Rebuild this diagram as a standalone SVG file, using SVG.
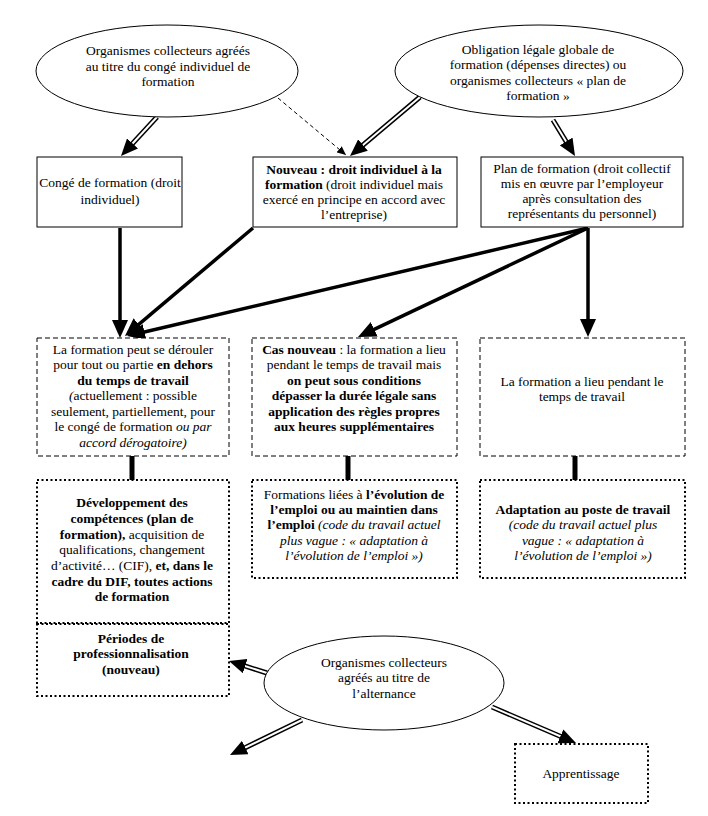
<svg xmlns="http://www.w3.org/2000/svg" width="708" height="816" viewBox="0 0 708 816">
<style>
.t{font-family:"Liberation Serif","Times New Roman",serif;font-size:13.5px;text-anchor:middle;fill:#000}
.b{font-weight:bold}
.i{font-style:italic}
.solid{fill:#fff;stroke:#000;stroke-width:1}
.dash{fill:#fff;stroke:#000;stroke-width:1;stroke-dasharray:5 3}
.dot{fill:#fff;stroke:#000;stroke-width:2;stroke-dasharray:2 2.5}
.ell{fill:#fff;stroke:#000;stroke-width:1}
.thick{stroke:#000;stroke-width:3.5;fill:none}
.bar{stroke:#000;stroke-width:5;fill:none}
.dblo{stroke:#000;stroke-width:5;fill:none}
.dbli{stroke:#fff;stroke-width:2;fill:none}
.thin{stroke:#000;stroke-width:1;stroke-dasharray:4 3;fill:none}
</style>
<defs>
<marker id="headT" markerUnits="userSpaceOnUse" markerWidth="18" markerHeight="16" refX="10" refY="8" orient="auto"><path d="M0,0 L18,8 L0,16 z" fill="#000"/></marker>
<marker id="headD" markerUnits="userSpaceOnUse" markerWidth="17" markerHeight="15" refX="17" refY="7.5" orient="auto"><path d="M0,0 L17,7.5 L0,15 z" fill="#000"/></marker>
<marker id="headS" markerUnits="userSpaceOnUse" markerWidth="9" markerHeight="8" refX="9" refY="4" orient="auto"><path d="M0,0 L9,4 L0,8 z" fill="#000"/></marker>
</defs>
<rect width="708" height="816" fill="#fff"/>

<g id="connectors">
<!-- double-line arrows from ellipses -->
<line class="dblo" x1="157" y1="117" x2="130.5" y2="145.7"/>
<line class="dbli" x1="157" y1="117" x2="121" y2="156" marker-end="url(#headD)"/>
<line class="dblo" x1="420" y1="97" x2="360.7" y2="147"/>
<line class="dbli" x1="420" y1="97" x2="350" y2="156" marker-end="url(#headD)"/>
<line class="dblo" x1="553" y1="120" x2="567.7" y2="144.1"/>
<line class="dbli" x1="553" y1="120" x2="575" y2="156" marker-end="url(#headD)"/>
<line class="thin" x1="278" y1="98" x2="346" y2="155" marker-end="url(#headS)"/>
<!-- thick arrows -->
<line class="thick" x1="120" y1="228" x2="120" y2="330" marker-end="url(#headT)"/>
<line class="thick" x1="253" y1="228" x2="131.1" y2="330.8" marker-end="url(#headT)"/>
<line class="thick" x1="588" y1="228" x2="134.8" y2="334.2" marker-end="url(#headT)"/>
<line class="thick" x1="588" y1="228" x2="365.2" y2="333.6" marker-end="url(#headT)"/>
<line class="thick" x1="588" y1="228" x2="588" y2="329" marker-end="url(#headT)"/>
<!-- short bars -->
<line class="bar" x1="132" y1="456" x2="132" y2="480"/>
<line class="bar" x1="348" y1="456" x2="348" y2="480"/>
<line class="bar" x1="575" y1="456" x2="575" y2="480"/>
<!-- bottom double arrows -->
<line class="dblo" x1="267" y1="673" x2="242.4" y2="665.2"/>
<line class="dbli" x1="267" y1="673" x2="229" y2="661" marker-end="url(#headD)"/>
<line class="dblo" x1="302" y1="720" x2="242.6" y2="748.9"/>
<line class="dbli" x1="302" y1="720" x2="230" y2="755" marker-end="url(#headD)"/>
<line class="dblo" x1="492" y1="707" x2="563.1" y2="737.5"/>
<line class="dbli" x1="492" y1="707" x2="576" y2="743" marker-end="url(#headD)"/>
</g>

<g id="ell-cif">
<ellipse class="ell" cx="167" cy="71" rx="131" ry="46"/>
<text class="t" x="168" y="55">Organismes collecteurs agréés</text>
<text class="t" x="168" y="71">au titre du congé individuel de</text>
<text class="t" x="168" y="86">formation</text>
</g>

<g id="ell-plan">
<ellipse class="ell" cx="539" cy="71" rx="144" ry="46"/>
<text class="t" x="538" y="54">Obligation légale globale de</text>
<text class="t" x="538" y="69">formation (dépenses directes) ou</text>
<text class="t" x="538" y="85">organismes collecteurs « plan de</text>
<text class="t" x="538" y="100">formation »</text>
</g>

<g id="box-conge">
<rect class="solid" x="37" y="157" width="145" height="70"/>
<text class="t" x="110" y="187">Congé de formation (droit</text>
<text class="t" x="110" y="204">individuel)</text>
</g>

<g id="box-dif">
<rect class="solid" x="253" y="157" width="204" height="70"/>
<text class="t" x="354" y="174"><tspan class="b">Nouveau : droit individuel à la</tspan></text>
<text class="t" x="354" y="189"><tspan class="b">formation</tspan> (droit individuel mais</text>
<text class="t" x="354" y="204">exercé en principe en accord avec</text>
<text class="t" x="354" y="219">l’entreprise)</text>
</g>

<g id="box-plan">
<rect class="solid" x="481" y="157" width="202" height="70"/>
<text class="t" x="582" y="173">Plan de formation (droit collectif</text>
<text class="t" x="582" y="188">mis en œuvre par l’employeur</text>
<text class="t" x="582" y="203">après consultation des</text>
<text class="t" x="582" y="218">représentants du personnel)</text>
</g>

<g id="dash-hors">
<rect class="dash" x="37" y="338" width="192" height="118"/>
<text class="t" x="133" y="354">La formation peut se dérouler</text>
<text class="t" x="133" y="369">pour tout ou partie <tspan class="b">en dehors</tspan></text>
<text class="t" x="133" y="385"><tspan class="b">du temps de travail</tspan></text>
<text class="t" x="133" y="400"><tspan class="i">(</tspan>actuellement : possible</text>
<text class="t" x="133" y="416">seulement, partiellement, pour</text>
<text class="t" x="133" y="431">le congé de formation <tspan class="i">ou par</tspan></text>
<text class="t" x="133" y="447"><tspan class="i">accord dérogatoire)</tspan></text>
</g>

<g id="dash-nouveau">
<rect class="dash" x="252" y="338" width="205" height="118"/>
<text class="t" x="354" y="354"><tspan class="b">Cas nouveau</tspan> : la formation a lieu</text>
<text class="t" x="354" y="369">pendant le temps de travail mais</text>
<text class="t" x="354" y="385"><tspan class="b">on peut sous conditions</tspan></text>
<text class="t" x="354" y="400"><tspan class="b">dépasser la durée légale sans</tspan></text>
<text class="t" x="354" y="416"><tspan class="b">application des règles propres</tspan></text>
<text class="t" x="354" y="431"><tspan class="b">aux heures supplémentaires</tspan></text>
</g>

<g id="dash-pendant">
<rect class="dash" x="480" y="338" width="205" height="118"/>
<text class="t" x="582" y="386">La formation a lieu pendant le</text>
<text class="t" x="582" y="401">temps de travail</text>
</g>

<g id="dot-competences">
<rect class="dot" x="37" y="480" width="192" height="143"/>
<text class="t" x="132" y="507"><tspan class="b">Développement des</tspan></text>
<text class="t" x="132" y="523"><tspan class="b">compétences (plan de</tspan></text>
<text class="t" x="132" y="539"><tspan class="b">formation),</tspan> acquisition de</text>
<text class="t" x="132" y="554">qualifications, changement</text>
<text class="t" x="132" y="570">d’activité… (CIF),  <tspan class="b">et, dans le</tspan></text>
<text class="t" x="132" y="586"><tspan class="b">cadre du DIF, toutes actions</tspan></text>
<text class="t" x="132" y="601"><tspan class="b">de formation</tspan></text>
</g>

<g id="dot-periodes">
<rect class="dot" x="37" y="624" width="192" height="72"/>
<text class="t" x="131" y="643"><tspan class="b">Périodes de</tspan></text>
<text class="t" x="131" y="658"><tspan class="b">professionnalisation</tspan></text>
<text class="t" x="131" y="674"><tspan class="b">(nouveau)</tspan></text>
</g>

<g id="dot-evolution">
<rect class="dot" x="252" y="480" width="205" height="98"/>
<text class="t" x="354" y="499">Formations liées à <tspan class="b">l’évolution de</tspan></text>
<text class="t" x="354" y="514"><tspan class="b">l’emploi ou au maintien dans</tspan></text>
<text class="t" x="354" y="529"><tspan class="b">l’emploi</tspan> <tspan class="i">(code du travail actuel</tspan></text>
<text class="t" x="354" y="545"><tspan class="i">plus vague : « adaptation à</tspan></text>
<text class="t" x="354" y="560"><tspan class="i">l’évolution de l’emploi »)</tspan></text>
</g>

<g id="dot-adaptation">
<rect class="dot" x="480" y="480" width="205" height="98"/>
<text class="t" x="583" y="514"><tspan class="b">Adaptation au poste de travail</tspan></text>
<text class="t" x="583" y="529"><tspan class="i">(code du travail actuel plus</tspan></text>
<text class="t" x="583" y="545"><tspan class="i">vague : « adaptation à</tspan></text>
<text class="t" x="583" y="560"><tspan class="i">l’évolution de l’emploi »)</tspan></text>
</g>

<g id="ell-alternance">
<ellipse class="ell" cx="384" cy="683" rx="120" ry="47"/>
<text class="t" x="384" y="667">Organismes collecteurs</text>
<text class="t" x="384" y="682">agréés au titre de</text>
<text class="t" x="384" y="698">l’alternance</text>
</g>

<g id="dot-apprentissage">
<rect class="dot" x="515" y="744" width="133" height="59"/>
<text class="t" x="581" y="778">Apprentissage</text>
</g>
</svg>
